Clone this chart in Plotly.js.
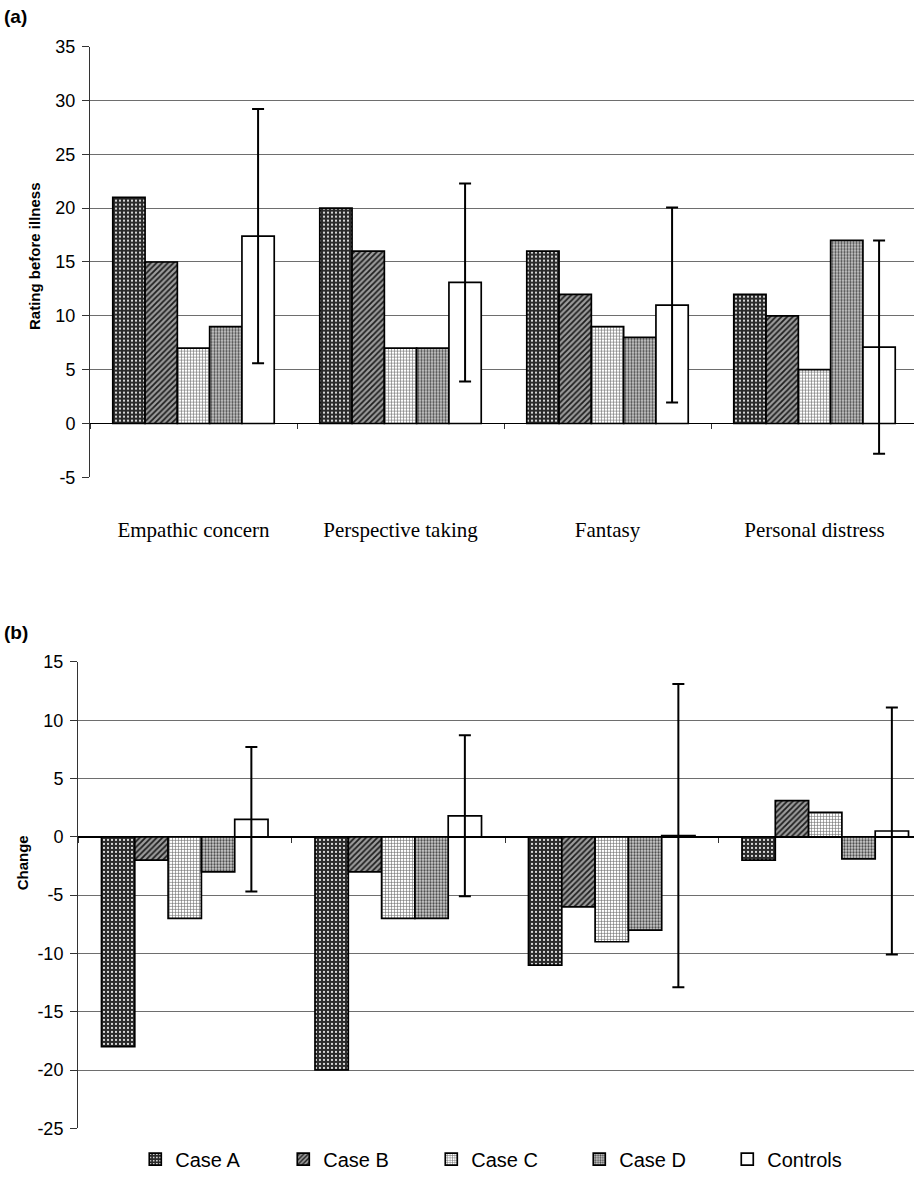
<!DOCTYPE html>
<html>
<head>
<meta charset="utf-8">
<script src="https://cdn.plot.ly/plotly-3.0.1.min.js"></script>
<style>html,body{margin:0;padding:0;background:#fff}#chart{width:914px;height:1179px}</style>
</head>
<body>
<div id="chart"></div>
<script>
// ---------- DATA ----------
const categories = ['Empathic concern', 'Perspective taking', 'Fantasy', 'Personal distress'];
const seriesNames = ['Case A', 'Case B', 'Case C', 'Case D', 'Controls'];

// (a) Rating before illness
const ratingCaseA = [21, 20, 16, 12];
const ratingCaseB = [15, 16, 12, 10];
const ratingCaseC = [7, 7, 9, 5];
const ratingCaseD = [9, 7, 8, 17];
const ratingControls = [17.4, 13.1, 11.0, 7.1];
const ratingControlsErr = [11.8, 9.2, 9.05, 9.9];

// (b) Change
const changeCaseA = [-18, -20, -11, -2];
const changeCaseB = [-2, -3, -6, 3.1];
const changeCaseC = [-7, -7, -9, 2.1];
const changeCaseD = [-3, -7, -8, -1.9];
const changeControls = [1.5, 1.8, 0.1, 0.5];
const changeControlsErr = [6.2, 6.9, 13, 10.6];

const yTicksA = [-5, 0, 5, 10, 15, 20, 25, 30, 35];
const yTicksB = [-25, -20, -15, -10, -5, 0, 5, 10, 15];

// ---------- STYLE ----------
const W = 914, H = 1179;
const sans = 'Liberation Sans, Arial, sans-serif';
const serif = 'Liberation Serif, Times New Roman, serif';

const patterns = [
  {shape: '.', bgcolor: '#2b2b2b', fgcolor: '#ffffff', size: 4, solidity: 0.22, fillmode: 'replace'},
  {shape: '/', bgcolor: '#9c9c9c', fgcolor: '#1e1e1e', size: 4, solidity: 0.45, fillmode: 'replace'},
  {shape: '+', bgcolor: '#ffffff', fgcolor: '#6a6a6a', size: 3, solidity: 0.35, fillmode: 'replace'},
  {shape: '.', bgcolor: '#cfcfcf', fgcolor: '#4a4a4a', size: 3, solidity: 0.45, fillmode: 'replace'},
  null
];

const ratingSeries = [ratingCaseA, ratingCaseB, ratingCaseC, ratingCaseD, ratingControls];
const changeSeries = [changeCaseA, changeCaseB, changeCaseC, changeCaseD, changeControls];

function makeTrace(i, vals, xa, ya, showLeg, err) {
  const t = {
    type: 'bar', x: categories, y: vals, name: seriesNames[i],
    xaxis: xa, yaxis: ya, legendgroup: seriesNames[i], showlegend: showLeg,
    marker: {color: '#ffffff', line: {color: '#000', width: 1.7}},
    hoverinfo: 'skip'
  };
  if (patterns[i]) t.marker.pattern = patterns[i];
  if (err) t.error_y = {type: 'data', array: err, visible: true, color: '#000', thickness: 2, width: 6};
  return t;
}

const traces = [];
ratingSeries.forEach((v, i) => traces.push(makeTrace(i, v, 'x', 'y', true, i === 4 ? ratingControlsErr : null)));
changeSeries.forEach((v, i) => traces.push(makeTrace(i, v, 'x2', 'y2', false, i === 4 ? changeControlsErr : null)));

// plot geometry (pixels)
const aLeft = 90, aTop = 47, aBot = 481, aCatW = 207;
const bLeft = 78, bTop = 667, bBot = 1137, bCatW = 213.5;
const aDom = [1 - aBot / H, 1 - aTop / H];
const bDom = [1 - bBot / H, 1 - bTop / H];
const aRangeX = [-0.5, -0.5 + (W - aLeft) / aCatW];
const bRangeX = [-0.5, -0.5 + (W - bLeft) / bCatW];
const aZeroPos = aDom[0] + (0 - yTicksA[0]) / (yTicksA[yTicksA.length - 1] - yTicksA[0]) * (aDom[1] - aDom[0]);
const bZeroPos = bDom[0] + (0 - yTicksB[0]) / (yTicksB[yTicksB.length - 1] - yTicksB[0]) * (bDom[1] - bDom[0]);

const yCommon = {
  showline: true, linecolor: '#333', linewidth: 1,
  ticks: 'outside', ticklen: 7, tickcolor: '#333', tickwidth: 1,
  showgrid: true, gridcolor: '#6e6e6e', gridwidth: 1,
  zeroline: true, zerolinecolor: '#000', zerolinewidth: 1.6,
  tickfont: {family: sans, size: 18, color: '#000'},
  ticklabelstandoff: 3,
  fixedrange: true
};

const layout = {
  width: W, height: H,
  margin: {l: 0, r: 0, t: 0, b: 0},
  paper_bgcolor: '#fff', plot_bgcolor: '#fff',
  barmode: 'group', bargap: 0.22, bargroupgap: 0,
  showlegend: true,
  legend: {
    orientation: 'h', x: 0.148, xanchor: 'left', y: 1 - 1168 / H, yanchor: 'middle',
    font: {family: sans, size: 20, color: '#000'},
    entrywidth: 103, entrywidthmode: 'pixels', traceorder: 'normal',
    itemwidth: 30,
    bgcolor: 'rgba(0,0,0,0)'
  },
  xaxis: {
    domain: [aLeft / W, 1], range: aRangeX, type: 'category',
    anchor: 'free', position: aZeroPos,
    showline: false, showgrid: false, zeroline: false,
    ticks: 'outside', tickson: 'boundaries', ticklen: 5, tickcolor: '#333',
    tickfont: {family: serif, size: 21, color: '#000'},
    ticklabelstandoff: 92, fixedrange: true
  },
  yaxis: Object.assign({}, yCommon, {
    domain: aDom, anchor: 'x', range: [yTicksA[0], yTicksA[yTicksA.length - 1]],
    tickmode: 'array', tickvals: yTicksA, ticktext: yTicksA.map(v => String(v))
  }),
  xaxis2: {
    domain: [bLeft / W, 1], range: bRangeX, type: 'category',
    anchor: 'free', position: bZeroPos,
    showline: false, showgrid: false, zeroline: false,
    ticks: 'outside', tickson: 'boundaries', ticklen: 5, tickcolor: '#333',
    showticklabels: false, fixedrange: true
  },
  yaxis2: Object.assign({}, yCommon, {
    domain: bDom, anchor: 'x2', range: [yTicksB[0], yTicksB[yTicksB.length - 1]],
    tickmode: 'array', tickvals: yTicksB, ticktext: yTicksB.map(v => String(v))
  }),
  annotations: [
    {text: '<b>(a)</b>', xref: 'paper', yref: 'paper', x: 2 / W, y: 1 - 17 / H, xanchor: 'left', yanchor: 'middle', showarrow: false, font: {family: sans, size: 19, color: '#000'}},
    {text: '<b>(b)</b>', xref: 'paper', yref: 'paper', x: 2 / W, y: 1 - 637 / H, xanchor: 'left', yanchor: 'middle', showarrow: false, font: {family: sans, size: 19, color: '#000'}},
    {text: '<b>Rating before illness</b>', xref: 'paper', yref: 'paper', x: 34 / W, y: 1 - 258 / H, xanchor: 'center', yanchor: 'middle', textangle: -90, showarrow: false, font: {family: sans, size: 15, color: '#000'}},
    {text: '<b>Change</b>', xref: 'paper', yref: 'paper', x: 22 / W, y: 1 - 870 / H, xanchor: 'center', yanchor: 'middle', textangle: -90, showarrow: false, font: {family: sans, size: 15, color: '#000'}}
  ]
};

Plotly.newPlot('chart', traces, layout, {staticPlot: true, displayModeBar: false});
</script>
</body>
</html>
